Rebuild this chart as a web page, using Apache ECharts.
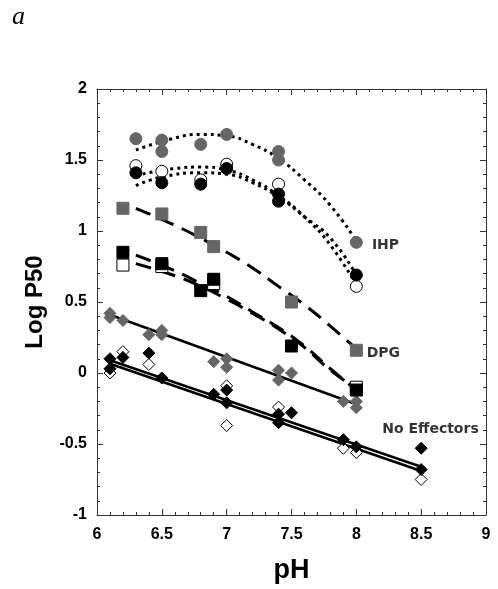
<!DOCTYPE html>
<html><head><meta charset="utf-8">
<script src="https://cdn.jsdelivr.net/npm/echarts@6/dist/echarts.min.js"></script>
<style>html,body{margin:0;padding:0;background:#fff}#c{width:498px;height:589px}</style>
</head><body><div id="c"></div>
<script>
// ---- data ----
const xTicks = [6, 6.5, 7, 7.5, 8, 8.5, 9];
const yTicks = [-1, -0.5, 0, 0.5, 1, 1.5, 2];

// IHP
const ihpGray  = [[6.3,1.65],[6.5,1.64],[6.5,1.56],[6.8,1.61],[7.0,1.68],[7.4,1.56],[7.4,1.50],[8.0,0.92]];
const ihpOpen  = [[6.3,1.46],[6.5,1.42],[6.8,1.36],[7.0,1.47],[7.4,1.33],[8.0,0.61]];
const ihpBlack = [[6.3,1.41],[6.5,1.34],[6.8,1.33],[7.0,1.44],[7.4,1.26],[7.4,1.21],[8.0,0.69]];
const ihpGrayFit  = [[6.3,1.57],[6.6,1.655],[6.8,1.68],[7.0,1.67],[7.2,1.61],[7.4,1.51],[7.6,1.36],[7.8,1.18],[8.0,0.93]];
const ihpOpenFit  = [[6.3,1.39],[6.6,1.44],[6.8,1.45],[7.0,1.43],[7.2,1.36],[7.4,1.25],[7.6,1.10],[7.8,0.90],[8.0,0.62]];
const ihpBlackFit = [[6.3,1.32],[6.5,1.38],[6.8,1.41],[7.0,1.40],[7.2,1.34],[7.4,1.24],[7.6,1.10],[7.8,0.95],[8.0,0.69]];

// DPG
const dpgGray  = [[6.2,1.16],[6.5,1.12],[6.8,0.99],[6.9,0.89],[7.5,0.50],[8.0,0.16]];
const dpgOpen  = [[6.2,0.76],[6.5,0.75],[6.9,0.63],[8.0,-0.10]];
const dpgBlack = [[6.2,0.85],[6.5,0.77],[6.8,0.58],[6.9,0.66],[7.5,0.19],[8.0,-0.12]];
const dpgGrayFit  = [[6.3,1.16],[6.6,1.04],[6.8,0.95],[7.0,0.85],[7.2,0.74],[7.4,0.61],[7.6,0.48],[7.8,0.33],[8.0,0.17]];
const dpgBlackFit = [[6.3,0.83],[6.6,0.72],[6.8,0.63],[7.0,0.54],[7.2,0.43],[7.4,0.32],[7.6,0.19],[7.8,0.03],[8.0,-0.12]];
const dpgOpenFit  = [[6.3,0.77],[6.6,0.685],[6.8,0.61],[7.0,0.52],[7.2,0.42],[7.4,0.31],[7.6,0.18],[7.8,0.02],[8.0,-0.11]];

// No effectors
const neGray  = [[6.1,0.42],[6.1,0.39],[6.2,0.37],[6.4,0.27],[6.5,0.30],[6.5,0.27],[6.9,0.08],[7.0,0.10],[7.0,0.04],[7.4,0.02],[7.5,0.0],[7.4,-0.05],[7.9,-0.20],[8.0,-0.20],[8.0,-0.245]];
const neOpen  = [[6.1,0.0],[6.2,0.15],[6.4,0.06],[7.0,-0.09],[7.0,-0.37],[7.4,-0.24],[7.9,-0.53],[8.0,-0.56],[8.5,-0.75]];
const neBlack = [[6.1,0.10],[6.1,0.03],[6.2,0.11],[6.4,0.14],[6.5,-0.035],[6.9,-0.15],[7.0,-0.12],[7.0,-0.21],[7.4,-0.29],[7.5,-0.28],[7.4,-0.35],[7.9,-0.47],[8.0,-0.52],[8.5,-0.53],[8.5,-0.68]];
const neGrayFit  = [[6.1,0.41],[8.0,-0.22]];
const neBlackFit = [[6.1,0.09],[8.5,-0.66]];
const neOpenFit  = [[6.1,0.065],[8.5,-0.69]];

const annotations = [[8.12,0.90,'IHP'],[8.08,0.14,'DPG'],[8.2,-0.40,'No Effectors']];

// ---- chart ----
const GRAY = '#666666';
const chart = echarts.init(document.getElementById('c'), null, {renderer:'canvas'});
function pts(data, symbol, size, fill, border, z){
  return {type:'scatter', data, symbol, symbolSize:size, z,
    itemStyle:{color:fill, borderColor:border, borderWidth:1, opacity:1}, silent:true};
}
function fit(data, dash, width, z){
  return {type:'line', data, smooth: data.length>2 ? 0.5 : false, showSymbol:false, symbol:'none', z,
    lineStyle:{color:'#000', width, type:dash, cap:'butt'}, silent:true};
}
const DOT=[3,4], DASH=[16,9];
const axisFont = {fontFamily:'Liberation Sans', fontWeight:'bold', fontSize:16, color:'#000'};
const commonAxis = {
  axisLine:{show:true, onZero:false, lineStyle:{color:'#333', width:1}},
  axisTick:{show:true, inside:true, length:6, lineStyle:{color:'#333'}},
  minorTick:{show:true, splitNumber:5, length:3, lineStyle:{color:'#333'}},
  splitLine:{show:false}, minorSplitLine:{show:false}
};
chart.setOption({
  animation:false,
  backgroundColor:'#fff',
  grid:{left:97, right:12, top:89, bottom:72, containLabel:false},
  xAxis:[
    Object.assign({type:'value', min:6, max:9, interval:0.5, position:'bottom',
      name:'pH', nameLocation:'middle', nameGap:42,
      nameTextStyle:{fontFamily:'Liberation Sans', fontWeight:'bold', fontSize:27, color:'#000'},
      axisLabel:Object.assign({margin:12, formatter:v=>xTicks.includes(v)?String(v):''}, axisFont)}, commonAxis),
    Object.assign({type:'value', min:6, max:9, interval:0.5, position:'top', axisLabel:{show:false}}, commonAxis)
  ],
  yAxis:[
    Object.assign({type:'value', min:-1, max:2, interval:0.5, position:'left',
      name:'Log P50', nameLocation:'middle', nameGap:50,
      nameTextStyle:{fontFamily:'Liberation Sans', fontWeight:'bold', fontSize:24, color:'#000'},
      axisLabel:Object.assign({margin:10, formatter:v=>yTicks.includes(v)?String(v):''}, axisFont)}, commonAxis),
    Object.assign({type:'value', min:-1, max:2, interval:0.5, position:'right', axisLabel:{show:false}}, commonAxis)
  ],
  graphic:[{type:'text', left:12, top:4, style:{text:'a', font:'italic 26px "Liberation Serif"', fill:'#000'}}],
  series:[
    fit(ihpGrayFit, DOT, 3, 2), fit(ihpOpenFit, DOT, 3, 2), fit(ihpBlackFit, DOT, 3, 2),
    fit(dpgGrayFit, DASH, 3, 2), fit(dpgBlackFit, DASH, 3, 2), fit(dpgOpenFit, DASH, 3, 2),
    fit(neGrayFit, 'solid', 2.5, 2), fit(neBlackFit, 'solid', 2.5, 2), fit(neOpenFit, 'solid', 2.5, 2),
    pts(ihpGray, 'circle', 12, GRAY, GRAY, 3),
    pts(ihpOpen, 'circle', 12, '#fff', '#000', 4),
    pts(ihpBlack, 'circle', 12, '#000', '#000', 5),
    pts(dpgGray, 'rect', 12, GRAY, GRAY, 3),
    pts(dpgOpen, 'rect', 12, '#fff', '#000', 4),
    pts(dpgBlack, 'rect', 12, '#000', '#000', 5),
    pts(neGray, 'diamond', 12, GRAY, GRAY, 3),
    pts(neOpen, 'diamond', 12, '#fff', '#000', 4),
    pts(neBlack, 'diamond', 12, '#000', '#000', 5),
    {type:'scatter', data:annotations, symbolSize:0, z:6, silent:true,
      label:{show:true, position:'right', distance:0, formatter:p=>p.data[2],
        fontFamily:'DejaVu Sans', fontWeight:'bold', fontSize:14, color:'#000'}}
  ]
});
</script></body></html>
